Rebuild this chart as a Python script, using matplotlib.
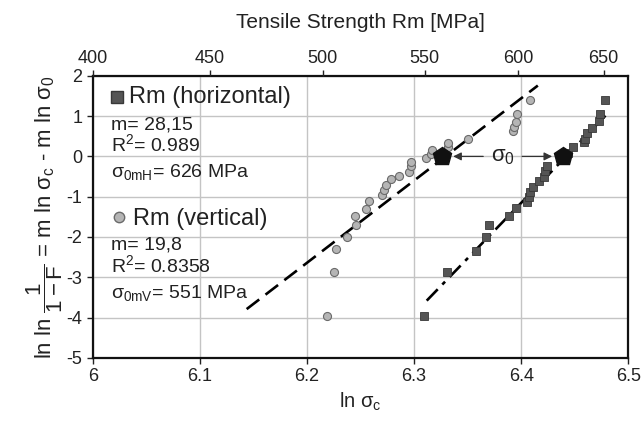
import matplotlib
matplotlib.use("Agg")
import matplotlib.pyplot as plt
import numpy as np

# Rm (vertical) points: ln(sigma_c), ln ln 1/(1-F)
vert_x = [6.2184, 6.2255, 6.2274, 6.2371, 6.2449, 6.2455, 6.2548, 6.2576, 6.2704, 6.2716,
          6.2738, 6.2785, 6.2863, 6.2953, 6.2972, 6.2975, 6.3109, 6.3159, 6.3168, 6.3321,
          6.3321, 6.3508, 6.3922, 6.3934, 6.3950, 6.3960, 6.4087]
vert_y = [-3.95, -2.86, -2.31, -1.99, -1.47, -1.70, -1.30, -1.11, -0.97, -0.83,
          -0.71, -0.57, -0.49, -0.38, -0.23, -0.14, -0.03, 0.06, 0.15, 0.23,
          0.33, 0.44, 0.64, 0.72, 0.86, 1.06, 1.39]

# Rm (horizontal) points
horiz_x = [6.3093, 6.3308, 6.3576, 6.3673, 6.3704, 6.3884, 6.3956, 6.4059, 6.4072, 6.4084,
           6.4109, 6.4165, 6.4209, 6.4224, 6.4240, 6.4389, 6.4442, 6.4489, 6.4589, 6.4598,
           6.4619, 6.4664, 6.4732, 6.4738, 6.4788]
horiz_y = [-3.97, -2.86, -2.34, -1.99, -1.70, -1.47, -1.28, -1.14, -1.01, -0.89,
           -0.75, -0.62, -0.50, -0.37, -0.23, -0.03, 0.08, 0.23, 0.35, 0.44,
           0.58, 0.70, 0.87, 1.06, 1.39]

# fit lines as drawn: (x start, x end, slope, x at y=0)
fit_vert = (6.1436, 6.4156, 20.4, 6.3294)
fit_horiz = (6.3118, 6.4788, 27.5, 6.4420)

# sigma_0 markers [MPa]
sigma0_marks = [559, 626]

rm_ticks = [400, 450, 500, 550, 600, 650]

legend_h = ["m= 28,15", r"R$^2$= 0.989", r"$\sigma_{0mH}$= 626 MPa"]
legend_v = ["m= 19,8", r"R$^2$= 0.8358", r"$\sigma_{0mV}$= 551 MPa"]

TXT = "#222222"


def fit_line(ax, fit, **kw):
    x0, x1, m, xc = fit
    xs = np.array([x0, x1])
    ax.plot(xs, m * (xs - xc), color="black", lw=1.9, zorder=3, **kw)


def main():
    plt.rcParams["font.family"] = ["Liberation Sans", "DejaVu Sans"]
    plt.rcParams["mathtext.fontset"] = "custom"
    plt.rcParams["mathtext.rm"] = "Liberation Sans"
    plt.rcParams["mathtext.it"] = "Liberation Sans"
    plt.rcParams["mathtext.sf"] = "Liberation Sans"
    plt.rcParams["axes.unicode_minus"] = False

    fig = plt.figure(figsize=(6.41, 4.26), dpi=100)
    ax = fig.add_axes([0.145, 0.160, 0.835, 0.662])

    fit_line(ax, fit_vert, ls=(0, (6, 3)))
    fit_line(ax, fit_horiz, ls=(0, (6, 2.5, 1.5, 2.5)))

    ax.plot(vert_x, vert_y, "o", ms=5.8, mfc="#b5b5b5", mec="#6a6a6a", mew=0.8, zorder=4)
    ax.plot(horiz_x, horiz_y, "s", ms=5.6, mfc="#555555", mec="#383838", mew=0.6, zorder=4)

    s0 = np.log(sigma0_marks)
    ax.plot(s0, [0, 0], "p", ms=13.5, color="#111111", zorder=5)
    mid = s0.mean()
    for xp in s0:
        ax.annotate("", xy=(xp, 0), xytext=(mid, 0),
                    arrowprops=dict(arrowstyle="-|>", color="#333333", lw=0.9,
                                    mutation_scale=12, shrinkA=14, shrinkB=8),
                    zorder=5)
    ax.text(mid, 0, r"$\sigma_0$", fontsize=16, color=TXT, ha="center", va="center", zorder=6)

    ax.set_xlim(6, 6.5)
    ax.set_ylim(-5, 2)
    ax.set_xticks(np.arange(6, 6.51, 0.1))
    ax.set_xticklabels(["6", "6.1", "6.2", "6.3", "6.4", "6.5"])
    ax.set_yticks(range(-5, 3))
    ax.grid(True, color="#c4c4c4", lw=1.0)
    ax.set_axisbelow(True)
    ax.tick_params(labelsize=13, colors=TXT, length=4, width=1, direction="out")
    for sp in ax.spines.values():
        sp.set_linewidth(1.6)
        sp.set_color("#111111")

    ax.set_xlabel(r"ln $\sigma_c$", fontsize=14.5, color=TXT, labelpad=4)
    ax.set_ylabel(r"ln ln $\dfrac{1}{1-F}$ = m ln $\sigma_c$ - m ln $\sigma_0$",
                  fontsize=16, color=TXT, labelpad=1)

    top = ax.twiny()
    top.set_xlim(ax.get_xlim())
    top.set_xticks(np.clip(np.log(rm_ticks), 6, 6.5))
    top.set_xticklabels([str(v) for v in rm_ticks])
    top.tick_params(labelsize=13, colors=TXT, length=4, width=1, direction="out", pad=2)
    top.set_xlabel("Tensile Strength Rm [MPa]", fontsize=15, color=TXT, labelpad=16)
    for sp in top.spines.values():
        sp.set_visible(False)

    # legend-like text block
    ax.plot([0.045], [0.925], "s", ms=8.5, mfc="#555555", mec="#383838", transform=ax.transAxes)
    ax.text(0.067, 0.904, "Rm (horizontal)", fontsize=17, color=TXT, transform=ax.transAxes, va="baseline")
    for txt, yy in zip(legend_h, [0.809, 0.734, 0.642]):
        ax.text(0.034, yy, txt, fontsize=14, color=TXT, transform=ax.transAxes, va="baseline")
    ax.plot([0.049], [0.500], "o", ms=7.5, mfc="#b5b5b5", mec="#6a6a6a", transform=ax.transAxes)
    ax.text(0.075, 0.472, "Rm (vertical)", fontsize=17, color=TXT, transform=ax.transAxes, va="baseline")
    for txt, yy in zip(legend_v, [0.383, 0.305, 0.213]):
        ax.text(0.034, yy, txt, fontsize=14, color=TXT, transform=ax.transAxes, va="baseline")

    fig.savefig("out.png", dpi=100)


if __name__ == "__main__":
    main()
